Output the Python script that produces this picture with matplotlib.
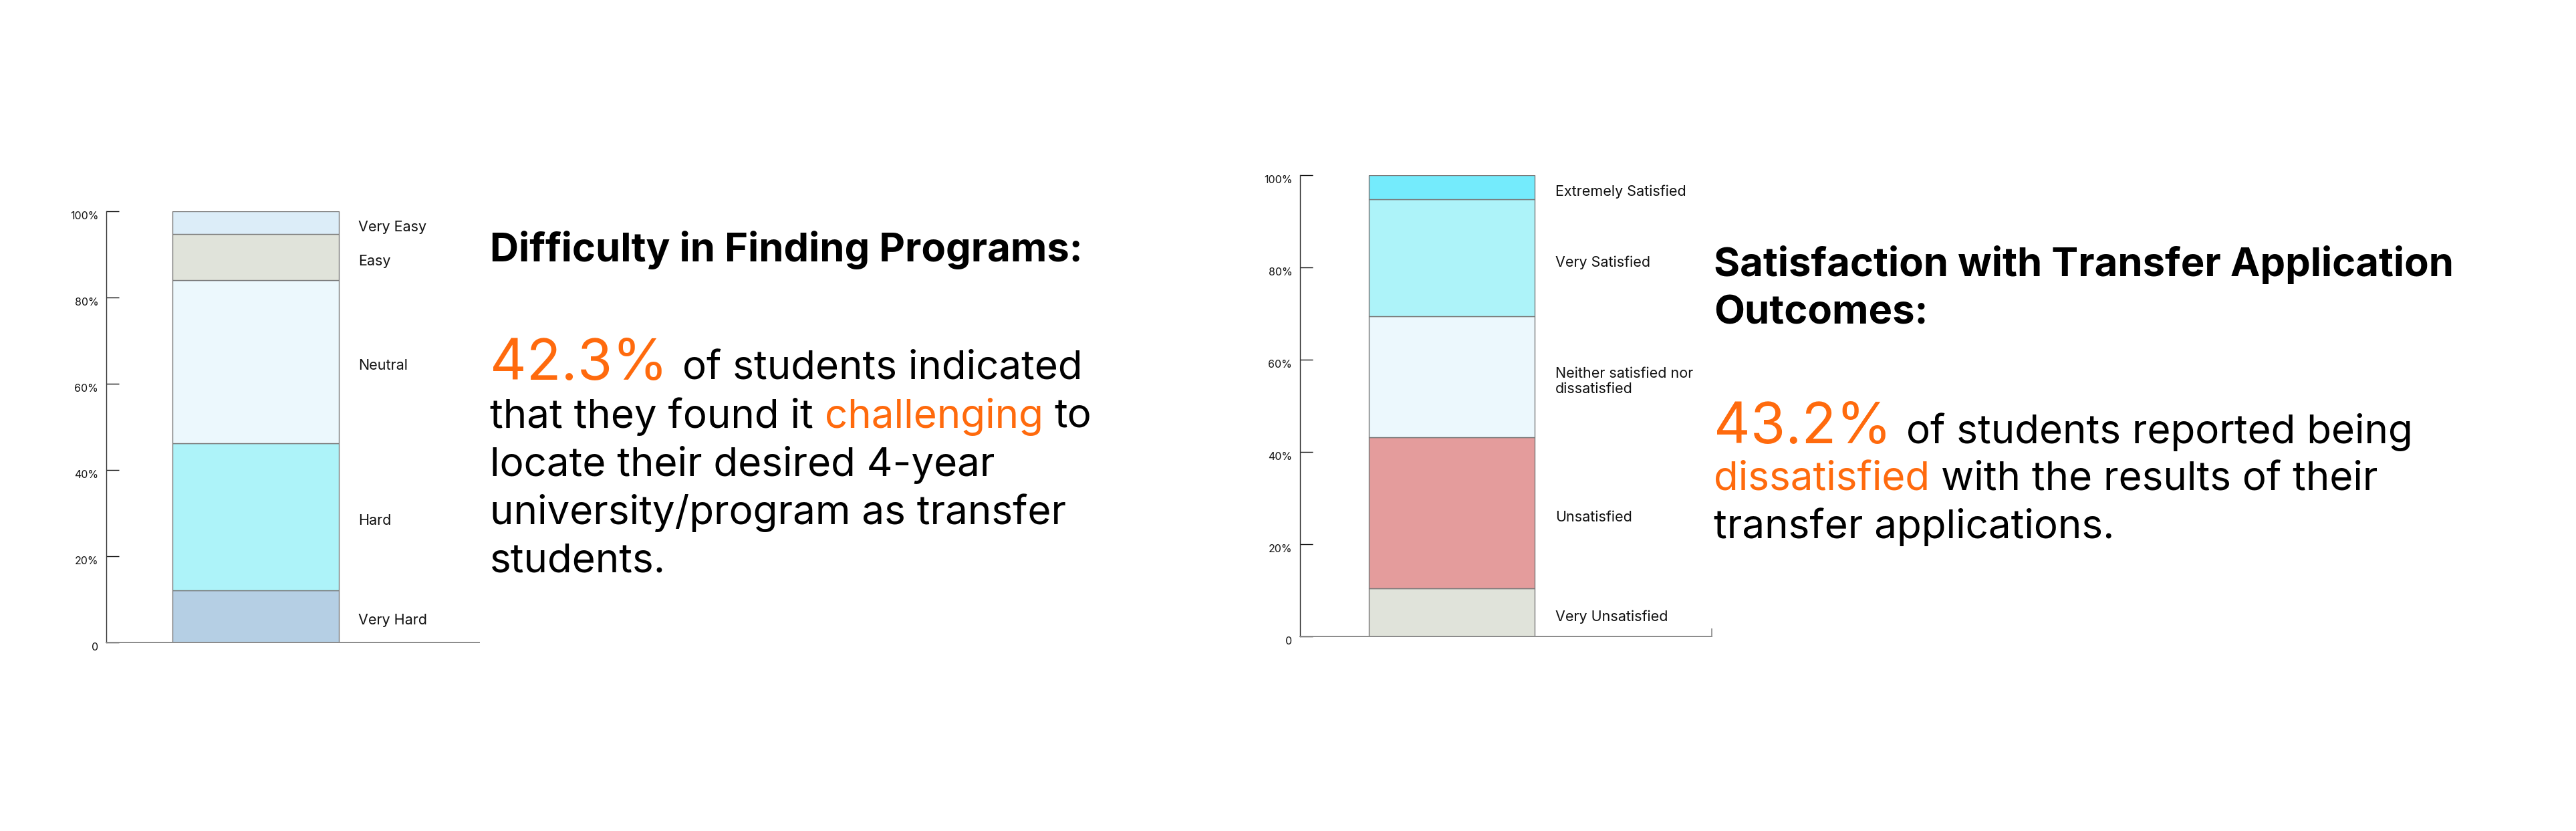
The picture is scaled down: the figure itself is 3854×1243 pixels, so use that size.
import numpy as np
import matplotlib
matplotlib.use("Agg")
import matplotlib.pyplot as plt

# ---------------------------------------------------------------------------
# data
# ---------------------------------------------------------------------------
diff_labels = ["Very Hard", "Hard", "Neutral", "Easy", "Very Easy"]
diff_values = [12.1, 34.1, 37.9, 10.6, 5.3]
diff_colors = ["#b5cfe4", "#adf3f9", "#ecf8fd", "#e0e3da", "#dcedf8"]

sat_labels = ["Very Unsatisfied", "Unsatisfied", "Neither satisfied nor\ndissatisfied",
              "Very Satisfied", "Extremely Satisfied"]
sat_values = [10.5, 32.7, 26.2, 25.4, 5.2]
sat_colors = ["#e0e3da", "#e49c9c", "#ecf8fd", "#adf3f9", "#74ebfc"]

tick_vals = [0, 20, 40, 60, 80, 100]
tick_text = ["0", "20%", "40%", "60%", "80%", "100%"]

left_title = ["Difficulty in Finding Programs:"]
left_body = [[("42.3%", "o"), ("of students indicated", "k")],
             [("that they found it", "k"), ("challenging", "o"), ("to", "k")],
             [("locate their desired 4-year", "k")],
             [("university/program as transfer", "k")],
             [("students.", "k")]]

right_title = ["Satisfaction with Transfer Application", "Outcomes:"]
right_body = [[("43.2%", "o"), ("of students reported being", "k")],
              [("dissatisfied", "o"), ("with the results of their", "k")],
              [("transfer applications.", "k")]]

ORANGE = "#ff6a0d"
FONT = "Inter"
W, H, DPI = 3854, 1243, 100

plt.rcParams['font.family'] = [FONT, 'DejaVu Sans']

fig = plt.figure(figsize=(W / DPI, H / DPI), dpi=DPI)
fig.patch.set_facecolor("white")


def stacked(ax, values, colors, labels, xlim, lab_x):
    bottom = 0.0
    for v, c, lab in zip(values, colors, labels):
        ax.bar(0, v, width=1.0, bottom=bottom, color=c, edgecolor="#7a7a7a",
               linewidth=1.0, align="center")
        # label sits a touch below the segment middle, like the original
        ax.text(lab_x, bottom + v / 2.0 - 1.0, lab, fontsize=15.5, va="center",
                ha="left", color="#111111", linespacing=1.2)
        bottom += v
    ax.set_xlim(*xlim)
    ax.set_ylim(0, 100)
    ax.set_yticks(tick_vals, tick_text, fontsize=11.5, va="top", color="#111111")
    ax.tick_params(axis="y", direction="in", length=13.5, width=1.0, pad=8.5,
                   color="#111111")
    ax.set_xticks([])
    for s in ["top", "right"]:
        ax.spines[s].set_visible(False)
    ax.spines["left"].set_color("#333333")
    ax.spines["left"].set_linewidth(1.0)
    ax.spines["bottom"].set_color("#8a8a8a")
    ax.spines["bottom"].set_linewidth(1.4)
    ax.patch.set_alpha(0)


# left chart
ax1 = fig.add_axes([159 / W, (H - 961) / H, 558 / W, 645 / H])
stacked(ax1, diff_values, diff_colors, diff_labels, (-0.8976, 1.3434), 0.6165)

# right chart
ax2 = fig.add_axes([1945 / W, (H - 952) / H, 616 / W, 690 / H])
stacked(ax2, sat_values, sat_colors, sat_labels, (-0.918, 1.5707), 0.625)
ax2.set_xticks([1.5707])
ax2.set_xticklabels([])
ax2.tick_params(axis="x", direction="in", length=9, width=1.2, color="#8a8a8a")

fig.canvas.draw()
renderer = fig.canvas.get_renderer()


def text_w(txt, size, weight="normal"):
    t = fig.text(0, 0, txt, fontsize=size, weight=weight)
    w = t.get_window_extent(renderer).width
    t.remove()
    return w


def rich(x_px, base_px, parts, size, big):
    x = x_px
    gap = text_w("a a", size) - text_w("aa", size)
    for i, (txt, col) in enumerate(parts):
        s = big if (col == "o" and "%" in txt) else size
        t = fig.text(x / W, (H - base_px) / H, txt, fontsize=s, va="baseline",
                     ha="left", color=ORANGE if col == "o" else "#000000")
        x += t.get_window_extent(renderer).width
        if s == big:
            x += 22
        else:
            x += gap


def titles(x_px, base_px, lines, step):
    for i, ln in enumerate(lines):
        fig.text(x_px / W, (H - base_px - i * step) / H, ln, fontsize=43,
                 weight="bold", va="baseline", ha="left", color="#000000")


titles(733, 391, left_title, 71)
for i, parts in enumerate(left_body):
    rich(733, 568 + i * 72, parts, 43.3, 61)

titles(2564, 413, right_title, 71)
for i, parts in enumerate(right_body):
    rich(2564, 663 + i * 71, parts, 43.3, 61)

fig.savefig("out.png", dpi=DPI, facecolor="white")
